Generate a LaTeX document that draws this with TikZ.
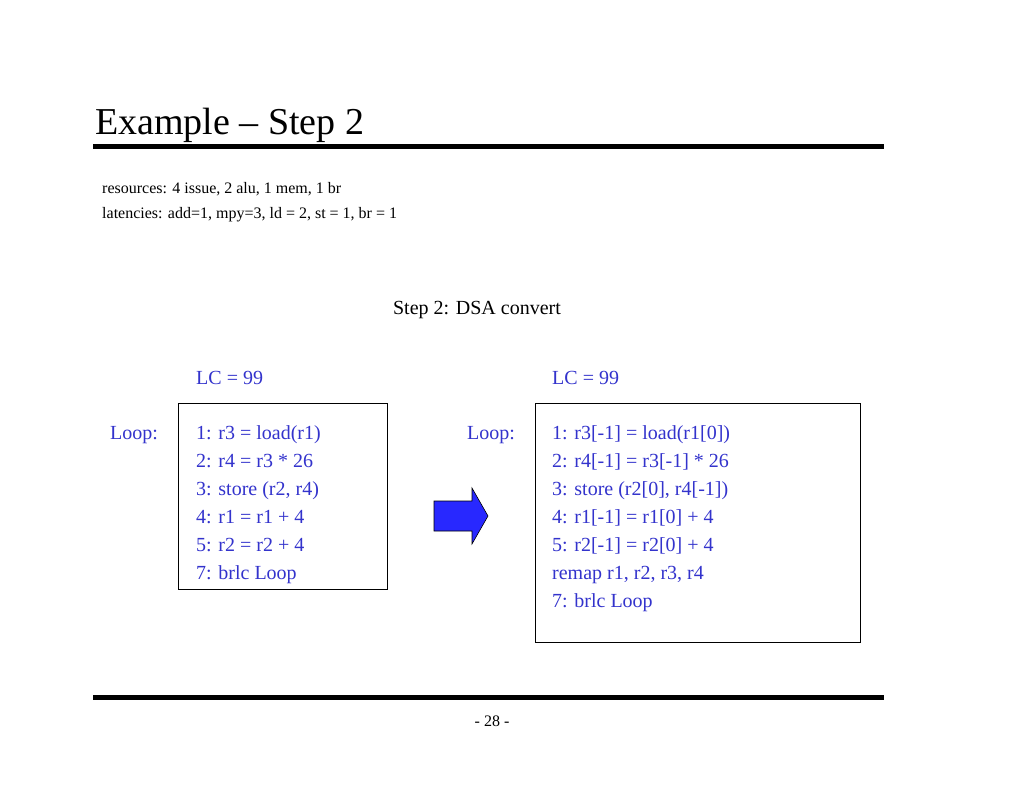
\documentclass[tikz,border=0pt]{standalone}
\usepackage{fontspec}
\setmainfont{Liberation Serif}
\definecolor{codeblue}{RGB}{51,51,204}
\definecolor{arrowblue}{RGB}{40,40,255}
\begin{document}
\begin{tikzpicture}[x=1pt,y=-1pt,
  code/.style={anchor=base west,inner sep=0pt,text=codeblue,font=\fontsize{20}{24}\selectfont},
  small/.style={anchor=base west,inner sep=0pt,font=\fontsize{16}{19}\selectfont},
  box/.style={draw,line width=0.8pt}]
\useasboundingbox (0,0) rectangle (1024,791);
\node[anchor=base west,inner sep=0pt,font=\fontsize{38}{44}\selectfont] (title) at (95,135) {Example – Step 2};
\draw[line width=5pt] (93,147) -- (884,147);
\node[small] (res) at (102,194) {resources: 4 issue, 2 alu, 1 mem, 1 br};
\node[small] (lat) at (102,219) {latencies: add=1, mpy=3, ld = 2, st = 1, br = 1};
\node[anchor=base,inner sep=0pt,font=\fontsize{20}{24}\selectfont] (step) at (477,314) {Step 2: DSA convert};
\node[code] (lc1) at (196,384) {LC = 99};
\node[code] (lc2) at (552,384) {LC = 99};
\draw[box] (178,403) rectangle (387,589);
\draw[box] (535,403) rectangle (860,642);
\node[code] (loop1) at (110,439) {Loop:};
\node[code] (loop2) at (467,439) {Loop:};
\foreach \t [count=\i from 0] in {1: r3 = load(r1), 2: r4 = r3 * 26, {3: store (r2, r4)}, 4: r1 = r1 + 4, 5: r2 = r2 + 4, 7: brlc Loop}
  \node[code] (l\i) at (196,439+28*\i) {\t};
\foreach \t [count=\i from 0] in {1: r3[-1] = load(r1[0]), 2: r4[-1] = r3[-1] * 26, {3: store (r2[0], r4[-1])}, 4: r1[-1] = r1[0] + 4, 5: r2[-1] = r2[0] + 4, {remap r1, r2, r3, r4}, 7: brlc Loop}
  \node[code] (r\i) at (552,439+28*\i) {\t};
\draw[fill=arrowblue,line width=0.6pt] (434,501) -- (472,501) -- (472,488) -- (488,516) -- (472,544) -- (472,531) -- (434,531) -- cycle;
\draw[line width=5pt] (93,697) -- (884,697);
\node[anchor=base,inner sep=0pt,font=\fontsize{16}{19}\selectfont] (pg) at (492,726) {- 28 -};
\end{tikzpicture}
\end{document}
